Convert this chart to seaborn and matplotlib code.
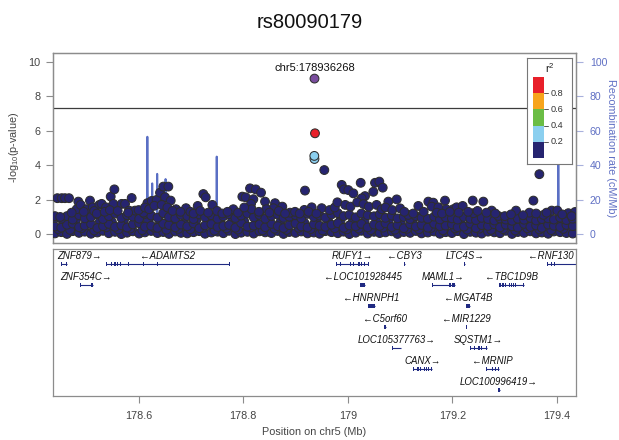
import numpy as np
import pandas as pd
import matplotlib
matplotlib.use("Agg")
import matplotlib.pyplot as plt
import seaborn as sns
from matplotlib.patches import Rectangle

sns.set_theme(style="white")
plt.rcParams['font.family'] = ['Liberation Sans', 'DejaVu Sans']
plt.rcParams['mathtext.fontset'] = 'custom'
plt.rcParams['mathtext.rm'] = 'Liberation Sans'
plt.rcParams['mathtext.it'] = 'Liberation Sans:italic'

# ---------------- data ----------------
lead_snp = "chr5:178936268"
lead_pos = 178.936268
title = "rs80090179"

# highlighted SNPs (lead + LD proxies)
hl_pos = [178.936268, 178.9372, 178.9359, 178.9362]
hl_logp = [9.02, 5.85, 4.54, 4.36]
hl_r2 = [1.00, 0.85, 0.27, 0.24]

# dense low band of SNPs
band_pos = [178.440, 178.452, 178.463, 178.474, 178.486, 178.497, 178.509, 178.521, 178.532, 178.543,
            178.555, 178.567, 178.578, 178.589, 178.601, 178.612, 178.624, 178.636, 178.647, 178.658,
            178.670, 178.681, 178.693, 178.705, 178.716, 178.727, 178.739, 178.751, 178.762, 178.773,
            178.785, 178.796, 178.808, 178.820, 178.831, 178.842, 178.854, 178.866, 178.877, 178.888,
            178.900, 178.911, 178.923, 178.935, 178.946, 178.957, 178.969, 178.981, 178.992, 179.003,
            179.015, 179.026, 179.038, 179.050, 179.061, 179.072, 179.084, 179.095, 179.107, 179.119,
            179.130, 179.141, 179.153, 179.165, 179.176, 179.187, 179.199, 179.210, 179.222, 179.234,
            179.245, 179.256, 179.268, 179.280, 179.291, 179.302, 179.314, 179.325, 179.337, 179.349,
            179.360, 179.371, 179.383, 179.394, 179.406, 179.418, 179.430]
band_lo = [0.05, 0.12, 0.02, 0.18, 0.08, 0.15, 0.03, 0.10, 0.20, 0.06,
           0.14, 0.01, 0.09, 0.17, 0.04, 0.11, 0.19, 0.07, 0.13, 0.02,
           0.16, 0.08, 0.05, 0.12, 0.18, 0.03, 0.10, 0.15, 0.06, 0.20,
           0.01, 0.09, 0.14, 0.04, 0.17, 0.11, 0.07, 0.19, 0.02, 0.13,
           0.08, 0.16, 0.05, 0.10, 0.03, 0.18, 0.12, 0.06, 0.15, 0.01,
           0.09, 0.20, 0.04, 0.14, 0.07, 0.11, 0.17, 0.02, 0.13, 0.08,
           0.19, 0.05, 0.10, 0.16, 0.03, 0.12, 0.07, 0.18, 0.01, 0.14,
           0.09, 0.04, 0.15, 0.11, 0.06, 0.20, 0.02, 0.13, 0.08, 0.17,
           0.05, 0.10, 0.03, 0.16, 0.12, 0.07, 0.04]
band_mid = [0.45, 0.38, 0.55, 0.62, 0.41, 0.50, 0.58, 0.36, 0.47, 0.60,
            0.43, 0.52, 0.39, 0.57, 0.64, 0.44, 0.49, 0.37, 0.61, 0.53,
            0.40, 0.56, 0.46, 0.63, 0.35, 0.51, 0.59, 0.42, 0.48, 0.54,
            0.38, 0.65, 0.44, 0.50, 0.57, 0.41, 0.60, 0.47, 0.36, 0.53,
            0.62, 0.45, 0.39, 0.58, 0.49, 0.43, 0.55, 0.64, 0.37, 0.51,
            0.46, 0.60, 0.40, 0.56, 0.48, 0.63, 0.42, 0.52, 0.35, 0.59,
            0.45, 0.54, 0.38, 0.61, 0.47, 0.50, 0.57, 0.41, 0.44, 0.62,
            0.36, 0.53, 0.48, 0.58, 0.40, 0.55, 0.46, 0.39, 0.60, 0.43,
            0.51, 0.37, 0.56, 0.49, 0.42, 0.54, 0.47]
band_hi = [0.95, 0.90, 1.05, 0.85, 1.10, 0.92, 1.00, 1.15, 0.88, 1.05,
           1.20, 0.95, 1.10, 1.02, 0.90, 1.18, 1.08, 0.96, 1.22, 1.00,
           0.92, 1.12, 1.05, 0.88, 1.15, 0.98, 1.10, 0.90, 1.04, 1.16,
           0.94, 1.08, 1.20, 0.98, 1.12, 0.90, 1.06, 1.14, 0.95, 1.02,
           1.10, 0.92, 1.18, 1.00, 1.08, 0.96, 1.15, 1.22, 1.05, 1.12,
           0.98, 1.20, 1.10, 1.04, 1.16, 0.95, 1.08, 0.92, 1.00, 0.88,
           1.05, 0.95, 0.90, 1.02, 0.86, 0.98, 0.92, 0.85, 1.00, 0.90,
           0.82, 0.95, 0.88, 0.80, 0.92, 0.85, 0.78, 0.90, 0.84, 0.95,
           0.80, 0.88, 0.92, 0.85, 0.96, 0.82, 0.90]
band2_pos = [178.446, 178.457, 178.469, 178.480, 178.491, 178.503, 178.515, 178.526, 178.538, 178.549,
             178.561, 178.572, 178.584, 178.595, 178.607, 178.618, 178.630, 178.641, 178.653, 178.664,
             178.676, 178.687, 178.699, 178.710, 178.722, 178.733, 178.745, 178.756, 178.768, 178.779,
             178.790, 178.802, 178.814, 178.825, 178.837, 178.848, 178.860, 178.871, 178.883, 178.894,
             178.906, 178.917, 178.929, 178.940, 178.952, 178.963, 178.975, 178.986, 178.998, 179.009,
             179.021, 179.032, 179.044, 179.055, 179.067, 179.078, 179.090, 179.101, 179.113, 179.124,
             179.136, 179.147, 179.159, 179.170, 179.182, 179.193, 179.205, 179.216, 179.228, 179.239,
             179.251, 179.262, 179.274, 179.285, 179.297, 179.308, 179.320, 179.331, 179.343, 179.354,
             179.366, 179.377, 179.389, 179.400, 179.412, 179.424]
band2_logp = [0.30, 0.72, 0.25, 0.80, 0.35, 0.66, 0.22, 0.75, 0.40, 0.70,
              0.28, 0.82, 0.33, 0.68, 0.24, 0.77, 0.38, 0.71, 0.26, 0.84,
              0.31, 0.65, 0.29, 0.79, 0.36, 0.73, 0.21, 0.69, 0.34, 0.81,
              0.27, 0.74, 0.39, 0.67, 0.23, 0.78, 0.32, 0.70, 0.25, 0.83,
              0.37, 0.66, 0.30, 0.76, 0.22, 0.72, 0.35, 0.80, 0.28, 0.68,
              0.33, 0.75, 0.24, 0.71, 0.38, 0.79, 0.26, 0.67, 0.31, 0.74,
              0.29, 0.70, 0.36, 0.65, 0.23, 0.73, 0.34, 0.62, 0.27, 0.69,
              0.32, 0.60, 0.25, 0.66, 0.30, 0.58, 0.22, 0.64, 0.35, 0.61,
              0.28, 0.67, 0.24, 0.63, 0.31, 0.65]

# scattered SNPs above the band
up_pos = [178.4446, 178.4529, 178.4592, 178.4669, 178.4847, 178.4816, 178.4892, 178.5070, 178.5007, 178.5121,
          178.5249, 178.5293, 178.5376, 178.5466, 178.5536, 178.5517, 178.5676, 178.5740, 178.5867, 178.5816,
          178.5931, 178.6090, 178.6167, 178.6250, 178.6345, 178.6409, 178.6472, 178.6568, 178.6504, 178.6613,
          178.6715, 178.6906, 178.7130, 178.7237, 178.7283, 178.7409, 178.7810, 178.7983, 178.8047, 178.8130,
          178.8239, 178.8340, 178.8193, 178.8149, 178.8162, 178.8417, 178.8608, 178.8576, 178.8440, 178.8747,
          178.8894, 178.9181, 178.9168, 178.9309, 178.9500, 178.9550, 178.9883, 178.9927, 179.0246, 179.0520,
          179.0602, 179.0667, 179.0487, 179.0328, 179.0265, 179.0009, 179.0105, 179.0935, 179.0774, 179.1156,
          179.1348, 179.1539, 179.1634, 179.1603, 179.1858, 179.1880, 179.1730, 179.2016, 179.2080, 179.2196,
          179.2388, 179.2591, 179.2400, 179.2751, 179.2878, 179.3216, 179.3471, 179.3548, 179.3662, 179.3739,
          179.3898, 179.4006, 179.4216, 179.4344,
          178.6990, 178.7050, 178.7180, 178.7330, 178.7500, 178.7600, 178.7700, 178.7900, 178.8020, 178.8300,
          178.8500, 178.8680, 178.8800, 178.8990, 178.9080, 178.9250, 178.9400, 178.9650, 178.9750, 178.9800,
          178.9950, 179.0050, 179.0180, 179.0300, 179.0400, 179.0550, 179.0650, 179.0720, 179.0850, 179.1000,
          179.1080, 179.1250, 179.1450, 179.1700, 179.1800, 179.1950, 179.2120, 179.2300, 179.2480, 179.2650,
          179.2820, 179.3000, 179.3120, 179.3350, 179.3600, 179.3800, 179.4100, 179.4280,
          178.4400, 178.4500, 178.4720, 178.4950, 178.5150, 178.5200, 178.5350, 178.5450, 178.5600, 178.5800,
          178.6000, 178.6120, 178.6200, 178.6300, 178.6440, 178.6550, 178.6650, 178.6800]
up_logp = [2.09, 2.09, 2.09, 2.09, 1.89, 1.45, 1.70, 1.95, 1.45, 1.56,
           1.70, 1.76, 1.56, 2.18, 2.60, 1.76, 1.76, 1.76, 2.10, 1.37,
           1.37, 1.25, 1.80, 1.93, 1.99, 2.41, 2.76, 2.76, 2.15, 1.95,
           1.45, 1.51, 1.64, 2.33, 2.14, 1.70, 1.45, 2.18, 2.14, 2.66,
           2.60, 2.41, 2.03, 1.76, 1.45, 1.89, 1.80, 1.51, 1.45, 1.60,
           1.25, 2.53, 1.41, 1.56, 1.51, 3.72, 2.86, 2.60, 2.98, 2.98,
           3.05, 2.70, 2.46, 2.21, 2.08, 2.56, 2.37, 2.02, 1.89, 1.12,
           1.64, 1.89, 1.83, 1.60, 1.95, 1.45, 1.56, 1.45, 1.56, 1.64,
           1.95, 1.89, 1.22, 1.37, 1.06, 1.37, 1.25, 1.95, 3.48, 1.12,
           1.37, 1.37, 1.22, 1.29,
           1.30, 1.20, 1.35, 1.25, 1.35, 1.20, 1.30, 1.25, 1.55, 1.30,
           1.25, 1.35, 1.20, 1.30, 1.20, 1.30, 1.20, 1.40, 1.55, 1.85,
           1.70, 1.60, 1.85, 1.75, 1.60, 1.70, 1.45, 1.55, 1.40, 1.50,
           1.30, 1.20, 1.30, 1.25, 1.20, 1.30, 1.25, 1.30, 1.35, 1.25,
           1.20, 1.05, 1.15, 1.10, 1.20, 1.25, 1.15, 1.05,
           1.05, 1.00, 1.25, 1.30, 1.35, 1.20, 1.30, 1.40, 1.35, 1.25,
           1.40, 1.55, 1.45, 1.65, 1.70, 1.55, 1.35, 1.30]

# recombination rate (cM/Mb)
recomb_pos = [178.4363, 178.480, 178.530, 178.575, 178.5850, 178.590, 178.6155, 178.6167, 178.6180,
              178.6250, 178.6260, 178.6270, 178.6345, 178.6355, 178.6365, 178.6505, 178.6515, 178.6525,
              178.700, 178.7483, 178.7493, 178.7503, 178.800, 178.850, 178.900, 178.950, 179.000,
              179.050, 179.100, 179.150, 179.200, 179.250, 179.300, 179.350, 179.4015, 179.4025,
              179.4035, 179.4363]
recomb_rate = [1.2, 0.8, 1.5, 2.0, 8.0, 1.0, 1.0, 56.5, 1.0,
               1.0, 29.5, 1.0, 1.0, 35.0, 1.0, 1.0, 32.0, 1.0,
               0.8, 0.8, 45.0, 0.8, 1.0, 0.5, 1.5, 0.3, 1.0,
               2.0, 0.5, 1.2, 0.8, 1.0, 0.6, 1.0, 1.0, 75.0,
               1.0, 0.8]

# genes
gene_names = ["ZNF879", "ADAMTS2", "RUFY1", "CBY3", "LTC4S", "RNF130",
              "ZNF354C", "LOC101928445", "MAML1", "TBC1D9B",
              "HNRNPH1", "MGAT4B", "C5orf60", "MIR1229",
              "LOC105377763", "SQSTM1", "CANX", "MRNIP", "LOC100996419"]
gene_start = [178.4516, 178.5385, 178.9768, 179.1065, 179.2222, 179.3815,
              178.4879, 179.0230, 179.1603, 179.2891,
              179.0392, 179.2254, 179.0700, 179.2257,
              179.0852, 179.2338, 179.1253, 179.2643, 179.2880]
gene_end = [178.4636, 178.7737, 179.0392, 179.1095, 179.2245, 179.5000,
            178.5122, 179.0330, 179.2049, 179.3369,
            179.0519, 179.2343, 179.0722, 179.2263,
            179.1018, 179.2669, 179.1605, 179.2891, 179.2902]
gene_strand = ["+", "-", "+", "-", "+", "-",
               "+", "-", "+", "-",
               "-", "-", "-", "-",
               "+", "+", "+", "-", "+"]
gene_row = [1, 1, 1, 1, 1, 1,
            2, 2, 2, 2,
            3, 3, 4, 4,
            5, 5, 6, 6, 7]
gene_exons = [
    [[178.4516, 178.4535], [178.4612, 178.4636]],
    [[178.5385, 178.5398], [178.5480, 178.5490], [178.5528, 178.5572], [178.5585, 178.5598],
     [178.5640, 178.5650], [178.5798, 178.5810], [178.6087, 178.6093], [178.6354, 178.6360],
     [178.7012, 178.7018], [178.7731, 178.7737]],
    [[178.9768, 178.9785], [178.9850, 178.9860], [178.9900, 178.9912], [178.9975, 178.9985],
     [179.0050, 179.0062], [179.0095, 179.0105], [179.0130, 179.0140], [179.0195, 179.0235],
     [179.0250, 179.0262], [179.0310, 179.0320], [179.0382, 179.0392]],
    [[179.1065, 179.1095]],
    [[179.2222, 179.2245]],
    [[179.3815, 179.3830], [179.3880, 179.3890], [179.3945, 179.3955], [179.3990, 179.4000],
     [179.4050, 179.4065]],
    [[178.4879, 178.4890], [178.5095, 178.5122]],
    [[179.0230, 179.0330]],
    [[179.1603, 179.1613], [179.1940, 179.1975], [179.2000, 179.2049]],
    [[179.2891, 179.2935], [179.2945, 179.2990], [179.3010, 179.3030], [179.3080, 179.3092],
     [179.3120, 179.3132], [179.3165, 179.3177], [179.3200, 179.3212], [179.3357, 179.3369]],
    [[179.0392, 179.0519]],
    [[179.2254, 179.2343]],
    [[179.0700, 179.0722]],
    [[179.2257, 179.2263]],
    [[179.0852, 179.0862], [179.1008, 179.1018]],
    [[179.2338, 179.2348], [179.2420, 179.2430], [179.2490, 179.2530], [179.2555, 179.2565],
     [179.2650, 179.2669]],
    [[179.1253, 179.1265], [179.1330, 179.1360], [179.1380, 179.1390], [179.1460, 179.1475],
     [179.1490, 179.1520], [179.1530, 179.1560], [179.1590, 179.1605]],
    [[179.2643, 179.2653], [179.2690, 179.2700], [179.2730, 179.2740], [179.2765, 179.2775],
     [179.2810, 179.2820], [179.2880, 179.2891]],
    [[179.2880, 179.2902]],
]

x_ticks = [178.6, 178.8, 179.0, 179.2, 179.4]
x_tick_labels = ["178.6", "178.8", "179", "179.2", "179.4"]
y_ticks = [0, 2, 4, 6, 8, 10]
rec_ticks = [0, 20, 40, 60, 80, 100]
gw_threshold = 7.3

ld_labels = ["lead", "0.8-1", "0.6-0.8", "0.4-0.6", "0.2-0.4", "0-0.2"]
ld_colors = ["#7A4D9E", "#E8202A", "#F7A41C", "#6BBD45", "#8BCFEF", "#262470"]
legend_breaks = ["0.8", "0.6", "0.4", "0.2"]

# ---------------- build tables ----------------
def ld_class(r2, is_lead):
    if is_lead:
        return "lead"
    if r2 >= 0.8:
        return "0.8-1"
    if r2 >= 0.6:
        return "0.6-0.8"
    if r2 >= 0.4:
        return "0.4-0.6"
    if r2 >= 0.2:
        return "0.2-0.4"
    return "0-0.2"

bg_pos = band_pos + band2_pos + band_pos + band_pos + up_pos
bg_logp = band_lo + band2_logp + band_mid + band_hi + up_logp
df_bg = pd.DataFrame({"pos": bg_pos, "logp": bg_logp})
df_bg["ld"] = "0-0.2"
df_hl = pd.DataFrame({"pos": hl_pos, "logp": hl_logp, "r2": hl_r2})
df_hl["ld"] = [ld_class(r, i == 0) for i, r in enumerate(hl_r2)]
df = pd.concat([df_bg, df_hl.iloc[::-1][["pos", "logp", "ld"]]], ignore_index=True)

df_rec = pd.DataFrame({"pos": recomb_pos, "rate": recomb_rate})

# ---------------- figure ----------------
W, H = 619, 440
fig = plt.figure(figsize=(W / 100, H / 100), dpi=100)

def fr(x0, y0, x1, y1):
    return [x0 / W, 1 - y1 / H, (x1 - x0) / W, (y1 - y0) / H]

ax = fig.add_axes(fr(53, 52.7, 576, 242.7))
axg = fig.add_axes(fr(53, 249.3, 576, 396))
axr = ax.twinx()
ax.set_zorder(axr.get_zorder() + 1)
ax.patch.set_visible(False)

xlim = (lead_pos - 0.5, lead_pos + 0.5)
ylim = (-0.49, 10.52)

frame_col = "#8c8c8c"
tick_txt = "#444444"
rec_col = "#5a6fc4"
rec_txt = "#6070c4"

# recombination rate
sns.lineplot(data=df_rec, x="pos", y="rate", ax=axr, color=rec_col, lw=1.4,
             estimator=None, sort=False, legend=False)
axr.set_ylim(ylim[0] * 10, ylim[1] * 10)
axr.set_yticks(rec_ticks)
axr.set_ylabel("")
axr.set_xlabel("")
axr.tick_params(axis="y", colors=rec_txt, labelsize=7.6, length=5, width=0.8,
                direction="out", pad=5, right=True)
axr.tick_params(axis="y", color="#a8b0dc")

# threshold
ax.axhline(gw_threshold, color="#3c3c3c", lw=0.9, zorder=1)

# SNPs
pal = dict(zip(ld_labels, ld_colors))
sns.scatterplot(data=df, x="pos", y="logp", hue="ld", palette=pal, hue_order=ld_labels,
                s=40, edgecolor="#2e2e2e", linewidth=0.75, legend=False, ax=ax, zorder=3)
ax.text(lead_pos, 9.63, lead_snp, ha="center", va="center", fontsize=8, color="#111111")

ax.set_xlim(xlim)
ax.set_ylim(ylim)
axr.set_xlim(xlim)
ax.set_xticks([])
ax.set_yticks(y_ticks)
ax.set_xlabel("")
ax.set_ylabel("")
ax.tick_params(axis="y", colors=tick_txt, labelsize=7.8, length=5, width=0.8,
               direction="out", pad=4, left=True)
ax.tick_params(axis="y", color=frame_col)
for a in (ax, axr):
    for s in a.spines.values():
        s.set_color(frame_col)
        s.set_linewidth(0.9)

# genes
gene_col = "#202a82"
axg.set_xlim(xlim)
axg.set_ylim(7.0, 0.0)
axg.set_yticks([])
axg.set_xticks(x_ticks)
axg.set_xticklabels(x_tick_labels)
axg.tick_params(axis="x", colors=tick_txt, labelsize=7.8, length=5, width=0.8,
                direction="out", pad=6, bottom=True)
axg.tick_params(axis="x", color=frame_col)
for s in axg.spines.values():
    s.set_color(frame_col)
    s.set_linewidth(0.9)

labels = []
for name, st, en, strand, row, exons in zip(gene_names, gene_start, gene_end,
                                               gene_strand, gene_row, gene_exons):
    gy = row - 0.30
    axg.plot([st, en], [gy, gy], color=gene_col, lw=0.8, solid_capstyle="butt")
    for es, ee in exons:
        w = max(ee - es, 0.0016)
        axg.add_patch(Rectangle((es, gy - 0.095), w, 0.19, facecolor=gene_col,
                                edgecolor="none"))
    txt = ("\u2190" + name) if strand == "-" else (name + "\u2192")
    mid = (st + min(en, xlim[1] + 0.2)) / 2
    t = axg.text(mid, row - 0.66, txt, ha="center", va="center", fontsize=6.9,
                 style="italic", color="#111111", clip_on=False)
    labels.append(t)

# keep labels inside the gene panel
fig.canvas.draw()
rend = fig.canvas.get_renderer()
abb = axg.get_window_extent(rend)
span = xlim[1] - xlim[0]
for t in labels:
    bb = t.get_window_extent(rend)
    dx = 0.0
    if bb.x0 < abb.x0 + 4:
        dx = abb.x0 + 4 - bb.x0
    elif bb.x1 > abb.x1 - 2:
        dx = abb.x1 - 2 - bb.x1
    if dx:
        x, y = t.get_position()
        t.set_position((x + dx / abb.width * span, y))

# legend box
axl = fig.add_axes(fr(527.3, 58.3, 571.7, 164))
axl.set_zorder(ax.get_zorder() + 5)
axl.set_facecolor("white")
axl.set_xlim(0, 44.4)
axl.set_ylim(105.7, 0)
axl.set_xticks([])
axl.set_yticks([])
for s in axl.spines.values():
    s.set_color("#777777")
    s.set_linewidth(0.8)
bar_cols = ld_colors[1:]
seg = 16.32
for i, c in enumerate(bar_cols):
    axl.add_patch(Rectangle((6.0, 18.4 + i * seg), 10.7, seg, facecolor=c, edgecolor="none"))
for i, lab in enumerate(legend_breaks):
    yb = 18.4 + (i + 1) * seg
    axl.plot([16.7, 21.0], [yb, yb], color="#555555", lw=0.7)
    axl.text(23.0, yb, lab, ha="left", va="center", fontsize=6.6, color="#333333")
axl.text(22.2, 9.7, r"r$^2$", ha="center", va="center", fontsize=8, color="#222222")

# titles / axis labels
fig.text(310 / W, 1 - 22 / H, title, ha="center", va="center", fontsize=14.5, color="#111111")
fig.text(314.5 / W, 1 - 431.7 / H, "Position on chr5 (Mb)", ha="center", va="center",
         fontsize=7.8, color=tick_txt)
fig.text(14 / W, 1 - 147.7 / H, r"-log$_{10}$(p-value)", ha="center", va="center",
         rotation=90, fontsize=7.8, color=tick_txt)
fig.text(611 / W, 1 - 147.7 / H, "Recombination rate (cM/Mb)", ha="center", va="center",
         rotation=-90, fontsize=7.8, color=rec_txt)

fig.savefig("out.png", dpi=100)
